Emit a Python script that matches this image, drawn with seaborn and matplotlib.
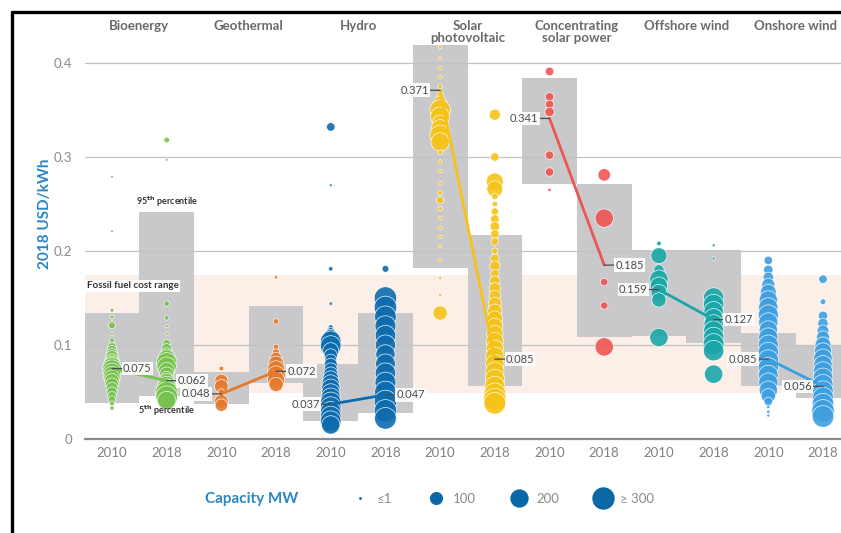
import numpy as np
import pandas as pd
import matplotlib
matplotlib.use("Agg")
import matplotlib.pyplot as plt
from matplotlib.lines import Line2D
import seaborn as sns

# ---------------------------------------------------------------- data
technologies = ["Bioenergy", "Geothermal", "Hydro", "Solar PV", "CSP",
                "Offshore wind", "Onshore wind"]
tech_titles = ["Bioenergy", "Geothermal", "Hydro", "Solar\nphotovoltaic",
               "Concentrating\nsolar power", "Offshore wind", "Onshore wind"]
years = ["2010", "2018"]
tech_colors = ["#78c251", "#e47a2e", "#0d6cae", "#f5c318", "#ee5553",
               "#1aa6a8", "#3e9fdf"]

# 5th / 95th percentile range of project costs (USD/kWh)
p05_2010 = [0.038, 0.037, 0.019, 0.182, 0.271, 0.110, 0.056]
p95_2010 = [0.134, 0.071, 0.080, 0.419, 0.384, 0.201, 0.113]
p05_2018 = [0.046, 0.060, 0.028, 0.056, 0.108, 0.102, 0.044]
p95_2018 = [0.241, 0.141, 0.134, 0.217, 0.271, 0.201, 0.100]

# capacity-weighted averages (USD/kWh)
avg_2010 = [0.075, 0.048, 0.037, 0.371, 0.341, 0.159, 0.085]
avg_2018 = [0.062, 0.072, 0.047, 0.085, 0.185, 0.127, 0.056]

fossil_low, fossil_high = 0.049, 0.174

# individual projects: (LCOE USD/kWh, capacity MW)
bioenergy_2010 = [(0.279, 1), (0.221, 1), (0.137, 5), (0.130, 5), (0.121, 25),
                  (0.112, 2), (0.105, 10), (0.098, 40), (0.094, 60), (0.090, 80),
                  (0.087, 100), (0.083, 120), (0.080, 150), (0.077, 200),
                  (0.074, 220), (0.071, 200), (0.068, 180), (0.065, 150),
                  (0.062, 120), (0.058, 100), (0.054, 80), (0.050, 60),
                  (0.046, 40), (0.042, 30), (0.038, 10), (0.033, 8)]
bioenergy_2018 = [(0.318, 15), (0.297, 1), (0.144, 15), (0.129, 10), (0.120, 2),
                  (0.112, 2), (0.102, 30), (0.096, 60), (0.090, 100), (0.085, 200),
                  (0.081, 250), (0.077, 220), (0.073, 150), (0.069, 120),
                  (0.065, 100), (0.061, 150), (0.057, 200), (0.053, 250),
                  (0.049, 300), (0.045, 280), (0.041, 200)]
geothermal_2010 = [(0.075, 10), (0.062, 100), (0.056, 110), (0.050, 20),
                   (0.045, 5), (0.040, 110), (0.036, 90)]
geothermal_2018 = [(0.172, 3), (0.125, 15), (0.098, 15), (0.092, 30), (0.086, 80),
                   (0.080, 140), (0.074, 180), (0.068, 200), (0.063, 170),
                   (0.058, 120)]
hydro_2010 = [(0.332, 40), (0.270, 1), (0.181, 8), (0.144, 3), (0.119, 10),
              (0.114, 40), (0.109, 120), (0.104, 250), (0.099, 250), (0.094, 150),
              (0.089, 100), (0.084, 80), (0.079, 100), (0.074, 100), (0.069, 120),
              (0.064, 150), (0.059, 180), (0.054, 200), (0.049, 200), (0.044, 220),
              (0.039, 250), (0.034, 250), (0.029, 250), (0.024, 250), (0.019, 250),
              (0.015, 200)]
hydro_2018 = [(0.181, 25), (0.150, 300), (0.140, 300), (0.130, 280), (0.120, 260),
              (0.110, 250), (0.100, 240), (0.090, 220), (0.080, 230), (0.070, 250),
              (0.060, 260), (0.050, 280), (0.040, 300), (0.030, 300), (0.022, 280)]
solar_pv_2010 = [(0.417, 3), (0.405, 3), (0.395, 5), (0.385, 5), (0.375, 8),
                 (0.366, 20), (0.358, 100), (0.350, 250), (0.343, 220),
                 (0.336, 150), (0.330, 200), (0.323, 250), (0.316, 200),
                 (0.305, 10), (0.295, 5), (0.285, 5), (0.272, 5), (0.262, 10),
                 (0.254, 30), (0.245, 8), (0.235, 5), (0.225, 5), (0.215, 5),
                 (0.205, 3), (0.190, 3), (0.171, 3), (0.153, 3), (0.134, 120)]
solar_pv_2018 = [(0.345, 70), (0.300, 40), (0.274, 170), (0.266, 150), (0.258, 20),
                 (0.250, 15), (0.242, 30), (0.234, 40), (0.226, 50), (0.218, 40),
                 (0.210, 30), (0.200, 20), (0.192, 40), (0.184, 60), (0.176, 40),
                 (0.168, 60), (0.160, 80), (0.152, 80), (0.144, 100), (0.136, 120),
                 (0.128, 140), (0.120, 150), (0.112, 160), (0.104, 180),
                 (0.096, 180), (0.088, 200), (0.080, 200), (0.072, 200),
                 (0.064, 220), (0.056, 240), (0.048, 280), (0.042, 300),
                 (0.038, 280)]
csp_2010 = [(0.391, 40), (0.364, 40), (0.356, 40), (0.348, 50), (0.302, 40),
            (0.284, 40), (0.265, 3)]
csp_2018 = [(0.281, 90), (0.235, 200), (0.167, 30), (0.142, 30), (0.098, 200)]
offshore_2010 = [(0.208, 10), (0.195, 150), (0.180, 60), (0.170, 200),
                 (0.163, 180), (0.156, 150), (0.148, 120), (0.108, 200)]
offshore_2018 = [(0.206, 2), (0.192, 2), (0.150, 250), (0.143, 250), (0.136, 220),
                 (0.129, 200), (0.122, 220), (0.115, 240), (0.108, 250),
                 (0.101, 260), (0.094, 250), (0.069, 200)]
onshore_2010 = [(0.190, 40), (0.180, 50), (0.172, 60), (0.164, 100), (0.156, 150),
                (0.148, 200), (0.140, 220), (0.132, 240), (0.124, 220),
                (0.116, 200), (0.108, 220), (0.100, 240), (0.092, 250),
                (0.084, 250), (0.076, 240), (0.068, 230), (0.060, 220),
                (0.052, 200), (0.046, 120), (0.040, 40), (0.034, 3), (0.029, 3),
                (0.025, 2)]
onshore_2018 = [(0.170, 40), (0.146, 15), (0.131, 50), (0.123, 60), (0.115, 80),
                (0.108, 100), (0.100, 150), (0.093, 180), (0.086, 200),
                (0.079, 200), (0.072, 220), (0.065, 230), (0.058, 240),
                (0.051, 250), (0.044, 260), (0.037, 280), (0.030, 300),
                (0.024, 280)]

project_groups = [bioenergy_2010, bioenergy_2018, geothermal_2010, geothermal_2018,
                  hydro_2010, hydro_2018, solar_pv_2010, solar_pv_2018,
                  csp_2010, csp_2018, offshore_2010, offshore_2018,
                  onshore_2010, onshore_2018]

label_side_2010 = ["right", "left", "left", "left", "left", "left", "left"]
label_side_2018 = ["right", "right", "right", "right", "right", "right", "left"]

legend_capacities = [1, 100, 200, 300]
legend_texts = ["\u22641", "100", "200", "\u2265 300"]

# ---------------------------------------------------------------- tables
rows = []
for slot, group in enumerate(project_groups):
    for lcoe, mw in group:
        rows.append({"slot": slot, "technology": technologies[slot // 2],
                     "lcoe": lcoe, "mw": mw})
projects = pd.DataFrame(rows)

averages = pd.DataFrame({
    "slot": [2 * i + k for i in range(7) for k in (0, 1)],
    "technology": [t for t in technologies for _ in (0, 1)],
    "lcoe": [v for pair in zip(avg_2010, avg_2018) for v in pair],
})

palette = dict(zip(technologies, tech_colors))
SIZE_RANGE = (4, 260)
SIZE_NORM = (1, 300)


def marker_area(mw):
    mw = min(max(mw, SIZE_NORM[0]), SIZE_NORM[1])
    frac = (mw - SIZE_NORM[0]) / (SIZE_NORM[1] - SIZE_NORM[0])
    return SIZE_RANGE[0] + frac * (SIZE_RANGE[1] - SIZE_RANGE[0])


# ---------------------------------------------------------------- style
sns.set_theme(style="white")
plt.rcParams["font.family"] = ["Lato", "DejaVu Sans"]

W, H = 841, 533
fig = plt.figure(figsize=(W / 100, H / 100), dpi=100)
ax = fig.add_axes([84.65 / W, 94 / H, 765.7 / W, 413.6 / H])
ax.set_xlim(-0.5, 13.5)
ax.set_ylim(0, 0.44)

# fossil fuel cost band
ax.axhspan(fossil_low, fossil_high, color="#fcefe7", lw=0, zorder=0)

# percentile boxes
slots = np.arange(14)
lows = [v for pair in zip(p05_2010, p05_2018) for v in pair]
highs = [v for pair in zip(p95_2010, p95_2018) for v in pair]
ax.bar(slots, np.array(highs) - np.array(lows), bottom=lows, width=1.0,
       color="#c9c9cb", lw=0, zorder=1)

# horizontal reference lines
for yv in [0.1, 0.2, 0.3, 0.4]:
    ax.axhline(yv, color="#c2c2c2", lw=0.9, zorder=1.5)

# project bubbles
sns.scatterplot(data=projects, x="slot", y="lcoe", hue="technology",
                palette=palette, size="mw", sizes=SIZE_RANGE, size_norm=SIZE_NORM,
                alpha=0.9, edgecolor=(1, 1, 1, 0.3), linewidth=0.5,
                legend=False, ax=ax, zorder=3, clip_on=False)

# weighted-average trend lines
sns.lineplot(data=averages, x="slot", y="lcoe", hue="technology", palette=palette,
             lw=2.0, legend=False, ax=ax, zorder=4)

# weighted-average labels
for i in range(7):
    for k, (val, side) in enumerate([(avg_2010[i], label_side_2010[i]),
                                     (avg_2018[i], label_side_2018[i])]):
        dx = 8 if side == "right" else -8
        ax.annotate(f"{val:.3f}", xy=(2 * i + k, val), xytext=(dx, 0),
                    textcoords="offset points", va="center",
                    ha="left" if side == "right" else "right",
                    fontsize=8, color="#4a4a4a", zorder=6,
                    bbox=dict(boxstyle="square,pad=0.12", fc="white", ec="none",
                              alpha=0.92),
                    arrowprops=dict(arrowstyle="-", color="#4a4a4a", lw=0.9,
                                    shrinkA=0, shrinkB=0))

# technology headers
for i, title in enumerate(tech_titles):
    ax.text(2 * i + 0.5, 0.4455, title, ha="center", va="top", fontsize=9.5,
            fontweight="bold", color="#6a6a6a", linespacing=0.95)

# annotations
ax.text(1, p95_2018[0] + 0.004, r"95$^{\mathbf{th}}$ percentile", ha="center",
        va="bottom", fontsize=6.5, fontweight="bold", color="#333333")
ax.text(1, p05_2018[0] - 0.008, r"5$^{\mathbf{th}}$ percentile", ha="center",
        va="top", fontsize=6.5, fontweight="bold", color="#333333")
ax.text(-0.46, 0.163, "Fossil fuel cost range", ha="left", va="center",
        fontsize=7, fontweight="bold", color="#333333", zorder=6,
        bbox=dict(boxstyle="square,pad=0.15", fc="white", ec="none"))

# axes
ax.set_xticks(slots)
ax.set_xticklabels(years * 7)
ax.set_xticks(np.arange(-0.5, 14, 1), minor=True)
ax.tick_params(axis="x", which="major", length=0, pad=5.5, labelsize=9.5,
               labelcolor="#808080")
ax.tick_params(axis="x", which="minor", length=4, width=1.2, color="#808080",
               direction="inout")
ax.set_yticks([0, 0.1, 0.2, 0.3, 0.4])
ax.set_yticklabels(["0", "0.1", "0.2", "0.3", "0.4"])
ax.tick_params(axis="y", length=0, pad=9, labelsize=9.5, labelcolor="#8a8a8a")
ax.set_xlabel("")
ax.set_ylabel("")
for name in ["top", "right", "left"]:
    ax.spines[name].set_visible(False)
ax.spines["bottom"].set_color("#8a8a8a")
ax.spines["bottom"].set_linewidth(1.6)

fig.text(45 / W, 1 - 214 / H, "2018 USD/kWh", rotation=90, ha="center",
         va="center", fontsize=11, fontweight="bold", color="#2a86c4")

# capacity legend
legend_blue = "#0b67a6"
fig.text(205 / W, 1 - 499 / H, "Capacity MW", ha="left", va="center",
         fontsize=11, fontweight="bold", color="#2a86c4")
handles = [Line2D([], [], ls="none", marker="o", ms=np.sqrt(marker_area(c)),
                  mfc=legend_blue, mec="none") for c in legend_capacities]
leg = fig.legend(handles, legend_texts, ncol=4, frameon=False, loc="center left",
                 bbox_to_anchor=(349 / W, 1 - 499 / H), borderpad=0,
                 borderaxespad=0, handlelength=1.6, handletextpad=0.5,
                 columnspacing=2.5, fontsize=9.5)
for t in leg.get_texts():
    t.set_color("#8a8a8a")

# outer frame edges
fig.add_artist(Line2D([11.7 / W, 11.7 / W], [0, 1 - 11.7 / H],
                      transform=fig.transFigure, color="black", lw=2.4))
fig.add_artist(Line2D([11.7 / W, 1], [1 - 11.7 / H, 1 - 11.7 / H],
                      transform=fig.transFigure, color="black", lw=2.4))

fig.savefig("out.png", dpi=100, facecolor="white")
